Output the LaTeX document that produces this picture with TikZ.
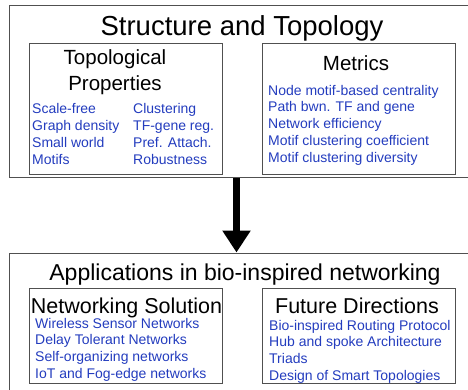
\documentclass[tikz,border=0pt]{standalone}
\usepackage{fontspec}
\setmainfont{Liberation Sans}
\usetikzlibrary{arrows.meta}

\definecolor{itemblue}{RGB}{35,60,190}
\definecolor{framegray}{RGB}{80,80,80}

\tikzset{
  frame/.style={draw=framegray, line width=1.3pt, anchor=north west, inner sep=0pt},
  title/.style={anchor=base, inner sep=0pt, font=\fontsize{27.5}{30}\selectfont},
  subtitle/.style={anchor=base, inner sep=0pt, font=\fontsize{23}{26}\selectfont},
  heading/.style={anchor=base, inner sep=0pt, align=center, font=\fontsize{20.5}{26}\selectfont},
  item/.style={anchor=base west, inner sep=0pt, text=itemblue, font=\fontsize{14}{17}\selectfont},
  flow/.style={line width=7pt, -{Triangle[width=27pt,length=22pt]}},
}

\begin{document}
\begin{tikzpicture}[x=1pt, y=-1pt]
  \useasboundingbox (0,0) rectangle (468,389);

  % --- upper block ---
  \node[frame, minimum width=470pt, minimum height=172pt] (struct) at (9,4.5) {};
  \node[title] (structtitle) at (242,35) {Structure and Topology};

  \node[frame, minimum width=193pt, minimum height=131pt] (topo) at (29,43) {};
  \node[frame, minimum width=193pt, minimum height=131pt] (metr) at (262,43) {};
  % base = last line of the heading
  \node[heading] (topohead) at (115,90) {Topological\\Properties};
  \node[heading] (metrhead) at (356,70) {Metrics};

  % properties, two columns
  \foreach \txt [count=\i] in {Scale-free, Graph density, Small world, Motifs}
    \node[item] (topoL\i) at (32,{113+17*(\i-1)}) {\txt};
  \foreach \txt [count=\i] in {Clustering, TF-gene reg., Pref. Attach., Robustness}
    \node[item] (topoR\i) at (133,{113+17*(\i-1)}) {\txt};

  % metrics
  \foreach \txt [count=\i] in {Node motif-based centrality, Path bwn. TF and gene,
      Network efficiency, Motif clustering coefficient, Motif clustering diversity}
    \node[item] (metr\i) at (268,{95+16.8*(\i-1)}) {\txt};

  % --- lower block ---
  \node[frame, minimum width=470pt, minimum height=150pt] (appl) at (9,252.5) {};
  \node[subtitle] (appltitle) at (245,280) {Applications in bio-inspired networking};

  \node[frame, minimum width=193pt, minimum height=95pt] (sol) at (29,288) {};
  \node[frame, minimum width=193pt, minimum height=95pt] (fut) at (262,288) {};
  \node[heading, font=\fontsize{21.5}{26}\selectfont] (solhead) at (126.5,313) {Networking Solution};
  \node[heading, font=\fontsize{21.5}{26}\selectfont] (futhead) at (357,313) {Future Directions};

  \foreach \txt [count=\i] in {Wireless Sensor Networks, Delay Tolerant Networks,
      Self-organizing networks, IoT and Fog-edge networks}
    \node[item] (sol\i) at (35,{328+16.7*(\i-1)}) {\txt};
  \foreach \txt [count=\i] in {Bio-inspired Routing Protocol, Hub and spoke Architecture,
      Triads, Design of Smart Topologies}
    \node[item] (fut\i) at (269,{330+16.7*(\i-1)}) {\txt};

  % arrow between the blocks
  \coordinate (arrx) at (236.5,0);
  \draw[flow] (struct.south -| arrx) -- (appl.north -| arrx);
\end{tikzpicture}
\end{document}
